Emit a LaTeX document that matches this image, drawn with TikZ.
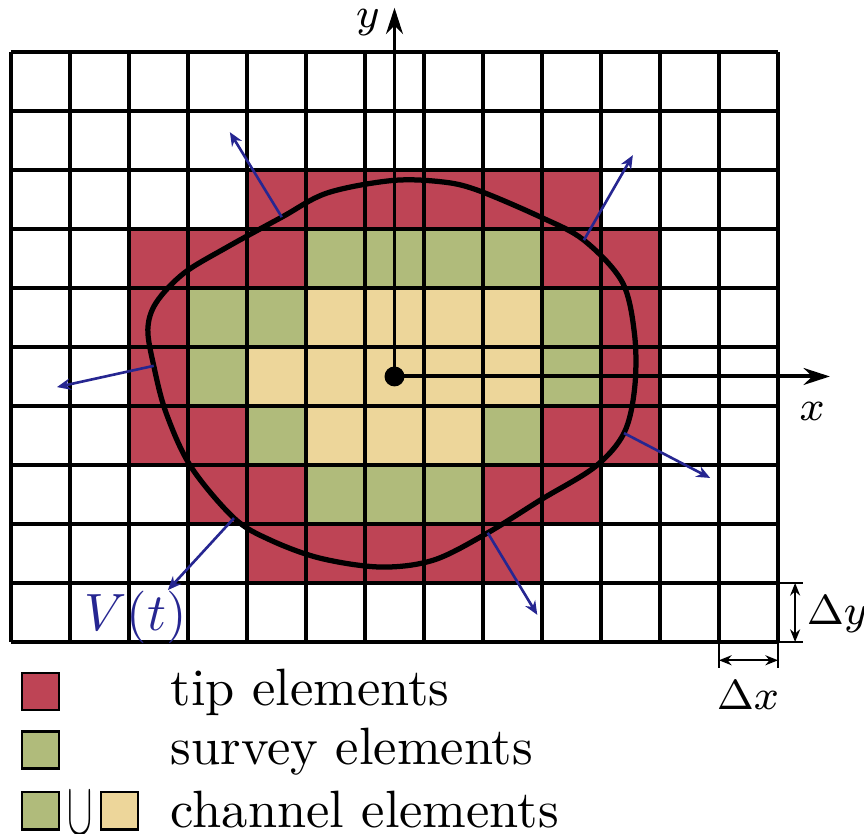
\documentclass[tikz,border=0pt]{standalone}
\usetikzlibrary{arrows.meta}
\definecolor{tipred}{RGB}{190,68,85}
\definecolor{survgreen}{RGB}{176,187,123}
\definecolor{chanyellow}{RGB}{237,214,154}
\definecolor{vblue}{RGB}{38,38,145}
\begin{document}
\begin{tikzpicture}[x=11.24pt,y=11.24pt,
  gridline/.style={line width=0.75pt},
  blob/.style={line width=1pt},
  axis/.style={line width=0.75pt,-{Stealth[length=5pt,width=3.2pt]}},
  velo/.style={vblue,line width=0.5pt,-{Stealth[length=2.6pt,width=2.2pt]}},
  dimarrow/.style={line width=0.45pt,{Stealth[length=2.4pt,width=1.9pt]}-{Stealth[length=2.4pt,width=1.9pt]}},
  extline/.style={line width=0.3pt},
  smalllab/.style={font=\fontsize{8}{9.6}\selectfont,inner sep=0pt},
  legtext/.style={font=\fontsize{10}{12}\selectfont,inner sep=0pt,anchor=base west},
  legbox/.style={draw=black,line width=0.5pt,minimum size=0.63*11.24pt,inner sep=0pt}]
\useasboundingbox (-0.186,-3.254) rectangle (14.458,10.881);

% cells
\foreach \i/\j in {4/7,5/7,6/7,7/7,8/7,9/7,
                   2/6,3/6,4/6,9/6,10/6,
                   2/5,10/5,2/4,10/4,
                   2/3,3/3,9/3,10/3,
                   3/2,4/2,8/2,9/2,
                   4/1,5/1,6/1,7/1,8/1}
  \fill[tipred] (\i,\j) rectangle ++(1,1);
\foreach \i/\j in {5/6,6/6,7/6,8/6,
                   3/5,4/5,9/5,3/4,9/4,
                   4/3,8/3,5/2,6/2,7/2}
  \fill[survgreen] (\i,\j) rectangle ++(1,1);
\foreach \i/\j in {5/5,6/5,7/5,8/5,
                   4/4,5/4,6/4,7/4,8/4,
                   5/3,6/3,7/3}
  \fill[chanyellow] (\i,\j) rectangle ++(1,1);

\draw[gridline,step=1] (0,0) grid (13,10);

% interface
\draw[blob] plot[smooth cycle, tension=0.55] coordinates {
 (6.45,7.82) (5.36,7.61) (4.59,7.20) (3.66,6.69) (2.93,6.25) (2.46,5.75)
 (2.32,5.30) (2.42,4.68) (2.63,3.88) (3.05,2.97) (3.78,2.10) (4.39,1.73)
 (5.24,1.42) (6.27,1.27) (7.17,1.39) (8.08,1.85) (8.98,2.41) (9.90,2.97)
 (10.39,3.54) (10.57,4.30) (10.57,5.20) (10.36,6.10) (9.71,6.81) (8.98,7.20)
 (7.90,7.66) (7.29,7.80)};

% velocity arrows
\coordinate (s1) at (4.59,7.20);  \coordinate (e1) at (3.71,8.64);
\coordinate (s2) at (9.71,6.81);  \coordinate (e2) at (10.54,8.25);
\coordinate (s3) at (2.42,4.68);  \coordinate (e3) at (0.78,4.32);
\coordinate (s4) at (10.39,3.54); \coordinate (e4) at (11.85,2.78);
\coordinate (s5) at (3.78,2.10);  \coordinate (e5) at (2.66,0.88);
\coordinate (s6) at (8.08,1.85);  \coordinate (e6) at (8.92,0.46);
\foreach \k in {1,...,6} \draw[velo] (s\k) -- (e\k);
\node[vblue,inner sep=0pt,anchor=base,font=\fontsize{10}{12}\selectfont] (vlab) at (2.11,0.2) {$V(t)$};

% axes
\coordinate (O) at (6.5,4.5);
\coordinate (yend) at (6.5,10.75);
\coordinate (xend) at (13.88,4.5);
\draw[axis] (O) -- (yend);
\draw[axis] (O) -- (xend);
\fill (O) circle (1.9pt);
\node[smalllab,anchor=base] (ylab) at (6.05,10.42) {$y$};
\node[smalllab,anchor=base] (xlab) at (13.58,3.76) {$x$};

% cell size
\coordinate (a1) at (13,1); \coordinate (a1e) at (13.42,1);
\coordinate (a0) at (13,0); \coordinate (a0e) at (13.42,0);
\coordinate (b0) at (12,0); \coordinate (b0e) at (12,-0.44);
\coordinate (b1e) at (13,-0.44);
\draw[extline] (a1) -- (a1e);
\draw[extline] (a0) -- (a0e);
\draw[extline] (b0) -- (b0e);
\draw[extline] (a0) -- (b1e);
\coordinate (dyt) at (13.29,1); \coordinate (dyb) at (13.29,0);
\coordinate (dxl) at (12,-0.31); \coordinate (dxr) at (13,-0.31);
\draw[dimarrow] (dyt) -- (dyb);
\draw[dimarrow] (dxl) -- (dxr);
\node[smalllab,anchor=base west] (dylab) at (13.47,0.29) {$\Delta y$};
\node[smalllab,anchor=base] (dxlab) at (12.49,-1.15) {$\Delta x$};

% legend
\node[legbox,fill=tipred] (l1) at (0.5,-0.84) {};
\node[legbox,fill=survgreen] (l2) at (0.5,-1.83) {};
\node[legbox,fill=survgreen] (l3a) at (0.5,-2.86) {};
\node[inner sep=0pt,font=\fontsize{14}{16}\selectfont] (cup) at (1.17,-2.9) {\scalebox{0.5}[1]{$\cup$}};
\node[legbox,fill=chanyellow] (l3b) at (1.84,-2.86) {};
\node[legtext] (t1) at (2.69,-1.07) {tip elements};
\node[legtext] (t2) at (2.69,-2.08) {survey elements};
\node[legtext] (t3) at (2.69,-3.14) {channel elements};
\end{tikzpicture}
\end{document}
